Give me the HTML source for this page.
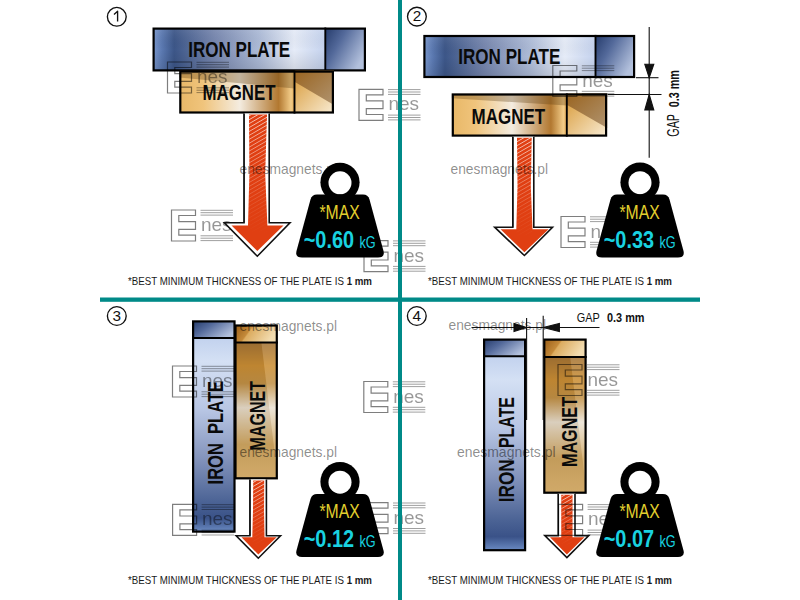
<!DOCTYPE html>
<html><head><meta charset="utf-8"><style>
html,body{margin:0;padding:0;background:#fff;overflow:hidden;}
svg{display:block;}
</style></head><body>
<svg width="800" height="600" viewBox="0 0 800 600">
<rect width="800" height="600" fill="#fff"/>

<defs>
 <linearGradient id="ironH" x1="0" y1="0" x2="1" y2="0">
  <stop offset="0" stop-color="#7896cc"/>
  <stop offset="0.05" stop-color="#5a78b0"/>
  <stop offset="0.12" stop-color="#3c5688"/>
  <stop offset="0.35" stop-color="#7686ae"/>
  <stop offset="0.62" stop-color="#aebcd8"/>
  <stop offset="0.82" stop-color="#e6ecf8"/>
  <stop offset="1" stop-color="#c4d2ee"/>
 </linearGradient>
 <linearGradient id="ironCap" x1="0" y1="0" x2="1" y2="0.6">
  <stop offset="0" stop-color="#263c6c"/>
  <stop offset="0.4" stop-color="#53699a"/>
  <stop offset="1" stop-color="#b2c0dc"/>
 </linearGradient>
 <linearGradient id="ironV" x1="0" y1="0" x2="0" y2="1">
  <stop offset="0" stop-color="#c2d2ee"/>
  <stop offset="0.12" stop-color="#d4e0f4"/>
  <stop offset="0.37" stop-color="#b8c6e4"/>
  <stop offset="0.62" stop-color="#8494bc"/>
  <stop offset="0.85" stop-color="#4a6294"/>
  <stop offset="0.93" stop-color="#3a5288"/>
  <stop offset="1" stop-color="#6a8ac2"/>
 </linearGradient>
 <linearGradient id="magH" x1="0" y1="0" x2="1" y2="0">
  <stop offset="0" stop-color="#e8b868"/>
  <stop offset="0.2" stop-color="#f0c47c"/>
  <stop offset="0.52" stop-color="#f4ece0"/>
  <stop offset="0.86" stop-color="#b27830"/>
  <stop offset="0.97" stop-color="#f2cc88"/>
  <stop offset="1" stop-color="#e4aa54"/>
 </linearGradient>
 <linearGradient id="magCapLight" x1="0" y1="0" x2="1" y2="1">
  <stop offset="0" stop-color="#d89a38"/>
  <stop offset="1" stop-color="#f8ead0"/>
 </linearGradient>
 <linearGradient id="magCapDark" x1="0" y1="0" x2="1" y2="1">
  <stop offset="0" stop-color="#9a6420"/>
  <stop offset="1" stop-color="#b09470"/>
 </linearGradient>
 <linearGradient id="magV" x1="0" y1="0" x2="0" y2="1">
  <stop offset="0" stop-color="#a47436"/>
  <stop offset="0.17" stop-color="#cc9036"/>
  <stop offset="0.3" stop-color="#c29248"/>
  <stop offset="0.48" stop-color="#ece4d6"/>
  <stop offset="0.75" stop-color="#d2aa66"/>
  <stop offset="1" stop-color="#e2ba76"/>
 </linearGradient>
 <linearGradient id="magCapV" x1="0" y1="0" x2="1" y2="0.3">
  <stop offset="0" stop-color="#9a6018"/>
  <stop offset="0.12" stop-color="#a86c22"/>
  <stop offset="0.38" stop-color="#c48a3a"/>
  <stop offset="0.42" stop-color="#dcac60"/>
  <stop offset="1" stop-color="#f2dcb0"/>
 </linearGradient>
 <linearGradient id="shadeV" x1="0" y1="0" x2="0" y2="1">
  <stop offset="0" stop-color="#fff" stop-opacity="0.08"/>
  <stop offset="0.5" stop-color="#000" stop-opacity="0"/>
  <stop offset="1" stop-color="#000" stop-opacity="0.1"/>
 </linearGradient>
 <pattern id="hatch" patternUnits="userSpaceOnUse" width="12" height="3.4" patternTransform="rotate(-30)">
  <rect x="0" y="0" width="12" height="0.7" fill="#ffffff"/>
 </pattern>
 <linearGradient id="hatchFade" x1="0" y1="0" x2="0" y2="1">
  <stop offset="0" stop-color="#fff" stop-opacity="0.85"/>
  <stop offset="0.4" stop-color="#fff" stop-opacity="0.45"/>
  <stop offset="0.75" stop-color="#fff" stop-opacity="0.12"/>
  <stop offset="1" stop-color="#fff" stop-opacity="0.0"/>
 </linearGradient>
 <mask id="hatchMask" maskContentUnits="objectBoundingBox">
  <rect width="1" height="1" fill="url(#hatchFade)"/>
 </mask>
</defs>

<circle cx="116.8" cy="16.8" r="9.4" fill="none" stroke="#111" stroke-width="1.35"/>
<path d="M117.6,21.4 V11.200000000000001 L114.0,14.4" fill="none" stroke="#111" stroke-width="1.35" stroke-linejoin="round"/>
<rect x="153.6" y="28.6" width="171.70000000000002" height="41.8" fill="url(#ironH)"/>
<rect x="325.3" y="28.6" width="39.599999999999966" height="41.8" fill="url(#ironCap)"/>
<rect x="153.6" y="28.6" width="171.70000000000002" height="41.8" fill="url(#shadeV)"/>
<rect x="153.6" y="28.6" width="211.3" height="41.8" fill="none" stroke="#000" stroke-width="2.2"/>
<line x1="325.3" y1="27.5" x2="325.3" y2="71.5" stroke="#000" stroke-width="1.9"/>
<rect x="180.29999999999998" y="71.6" width="114.20000000000002" height="40.89999999999999" fill="url(#magH)"/>
<path d="M179.2,70.5 H294.5 V88.602 L179.2,77.396 Z" fill="#5a3a10" fill-opacity="0.32"/>
<rect x="294.5" y="71.6" width="38.39999999999998" height="40.89999999999999" fill="url(#magCapLight)"/>
<path d="M294.5,70.5 H334 V104.97999999999999 L294.5,81.706 Z" fill="url(#magCapDark)"/>
<rect x="180.29999999999998" y="71.6" width="152.60000000000002" height="40.89999999999999" fill="none" stroke="#000" stroke-width="2.2"/>
<line x1="294.5" y1="70.5" x2="294.5" y2="113.6" stroke="#000" stroke-width="1.9"/>
<text x="188.2" y="56.7" font-size="21.4" font-weight="bold" fill="#0a0a0a" text-anchor="start" textLength="102" lengthAdjust="spacingAndGlyphs" font-family='"Liberation Sans", sans-serif' >IRON PLATE</text>
<text x="202.5" y="100" font-size="22" font-weight="bold" fill="#0a0a0a" text-anchor="start" textLength="73" lengthAdjust="spacingAndGlyphs" font-family='"Liberation Sans", sans-serif' >MAGNET</text>
<g transform="translate(167.5,62)" fill="none" stroke="#000" opacity="0.5"><path d="M0,0 H24 V5.5 H7.3 V11.6 H24 V19.4 H7.3 V25.2 H24 V31 H0 Z" stroke-width="1.2"/>
  <path d="M29,0.3 H61.5 M29,2.7 H61.5 M29,5.1 H61.5 M29,25.8 H61.5 M29,28.2 H61.5 M29,30.6 H61.5" stroke-width="0.75"/>
  <text x="29.5" y="21" font-size="19" fill="#000" fill-opacity="0.82" stroke="none" textLength="30.5" lengthAdjust="spacing" font-family='"Liberation Sans", sans-serif'>nes</text></g>
<g transform="translate(359,89.3)" fill="none" stroke="#000" opacity="0.5"><path d="M0,0 H24 V5.5 H7.3 V11.6 H24 V19.4 H7.3 V25.2 H24 V31 H0 Z" stroke-width="1.2"/>
  <path d="M29,0.3 H61.5 M29,2.7 H61.5 M29,5.1 H61.5 M29,25.8 H61.5 M29,28.2 H61.5 M29,30.6 H61.5" stroke-width="0.75"/>
  <text x="29.5" y="21" font-size="19" fill="#000" fill-opacity="0.82" stroke="none" textLength="30.5" lengthAdjust="spacing" font-family='"Liberation Sans", sans-serif'>nes</text></g>
<g transform="translate(171.5,210)" fill="none" stroke="#000" opacity="0.5"><path d="M0,0 H24 V5.5 H7.3 V11.6 H24 V19.4 H7.3 V25.2 H24 V31 H0 Z" stroke-width="1.2"/>
  <path d="M29,0.3 H61.5 M29,2.7 H61.5 M29,5.1 H61.5 M29,25.8 H61.5 M29,28.2 H61.5 M29,30.6 H61.5" stroke-width="0.75"/>
  <text x="29.5" y="21" font-size="19" fill="#000" fill-opacity="0.82" stroke="none" textLength="30.5" lengthAdjust="spacing" font-family='"Liberation Sans", sans-serif'>nes</text></g>
<path d="M244,113.6 V222.8 H224.4 L257.3,256.2 L290,222.8 H269.2 V113.6" fill="#fff" stroke="#111" stroke-width="1.6" stroke-linejoin="miter" stroke-miterlimit="10"/>
<path d="M249,114.6 H267 L265.2,173.66000000000003 L267.4,225.5 H283.5 L257.3,251 L231.5,225.5 H248 L249.4,173.66000000000003 Z" fill="#e03f12"/>
<rect x="248" y="114.6" width="19.399999999999977" height="119.9" fill="url(#hatch)" mask="url(#hatchMask)"/>
<line x1="244.2" y1="113.6" x2="244.2" y2="222.8" stroke="#111" stroke-width="1"/>
<text x="239.5" y="173.8" font-size="14.8" fill="#000" fill-opacity="0.46" textLength="97.5" lengthAdjust="spacingAndGlyphs" font-family='"Liberation Sans", sans-serif'>enesmagnets.pl</text>
<g transform="translate(364,240.6)" fill="none" stroke="#000" opacity="0.5"><path d="M0,0 H24 V5.5 H7.3 V11.6 H24 V19.4 H7.3 V25.2 H24 V31 H0 Z" stroke-width="1.2"/>
  <path d="M29,0.3 H61.5 M29,2.7 H61.5 M29,5.1 H61.5 M29,25.8 H61.5 M29,28.2 H61.5 M29,30.6 H61.5" stroke-width="0.75"/>
  <text x="29.5" y="21" font-size="19" fill="#000" fill-opacity="0.82" stroke="none" textLength="30.5" lengthAdjust="spacing" font-family='"Liberation Sans", sans-serif'>nes</text></g>
<g transform="translate(340,194.6)">
<circle cx="0" cy="-12.3" r="19.6" fill="#000"/>
<circle cx="0" cy="-11.8" r="11.5" fill="#fff"/>
<path d="M-23,0 H23 Q28,0 29.5,5 L43.5,56.5 Q45,63 38,63 H-38 Q-45,63 -43.5,56.5 L-29.5,5 Q-28,0 -23,0 Z" fill="#000"/>
<text x="-20.6" y="24.4" font-size="19.8" font-weight="normal" fill="#e2cf2e" text-anchor="start" textLength="40.3" lengthAdjust="spacingAndGlyphs" font-family='"Liberation Sans", sans-serif' >*MAX</text>
<text x="-36.3" y="53" font-size="24.3" font-weight="bold" fill="#19d2e0" text-anchor="start" textLength="50.4" lengthAdjust="spacingAndGlyphs" font-family='"Liberation Sans", sans-serif' >~0.60</text>
<text x="19.4" y="53" font-size="16" font-weight="normal" fill="#19d2e0" text-anchor="start" textLength="16.2" lengthAdjust="spacingAndGlyphs" font-family='"Liberation Sans", sans-serif' >kG</text>
</g>
<text x="128" y="284.5" font-size="11.6" fill="#1a1a1a" font-family='"Liberation Sans", sans-serif' textLength="244" lengthAdjust="spacingAndGlyphs">*BEST MINIMUM THICKNESS OF THE PLATE IS <tspan font-weight="bold">1 mm</tspan></text>
<circle cx="416.9" cy="16.6" r="9.4" fill="none" stroke="#111" stroke-width="1.35"/>
<text x="416.9" y="21.3" font-size="15.3" font-weight="normal" fill="#111" text-anchor="middle" font-family='"Liberation Sans", sans-serif' >2</text>
<rect x="424.40000000000003" y="36.0" width="171.1" height="40.99999999999999" fill="url(#ironH)"/>
<rect x="595.5" y="36.0" width="38.60000000000002" height="40.99999999999999" fill="url(#ironCap)"/>
<rect x="424.40000000000003" y="36.0" width="171.1" height="40.99999999999999" fill="url(#shadeV)"/>
<rect x="424.40000000000003" y="36.0" width="209.70000000000005" height="40.99999999999999" fill="none" stroke="#000" stroke-width="2.2"/>
<line x1="595.5" y1="34.9" x2="595.5" y2="78.1" stroke="#000" stroke-width="1.9"/>
<rect x="452.8" y="94.5" width="113.99999999999997" height="41.09999999999998" fill="url(#magH)"/>
<path d="M451.7,93.4 H566.8 V105.524 L451.7,98.16300000000001 Z" fill="#5a3a10" fill-opacity="0.32"/>
<rect x="566.8" y="94.5" width="39.30000000000007" height="41.09999999999998" fill="url(#magCapLight)"/>
<path d="M566.8,93.4 H607.2 V128.04 L566.8,104.658 Z" fill="url(#magCapDark)"/>
<rect x="452.8" y="94.5" width="153.30000000000007" height="41.09999999999998" fill="none" stroke="#000" stroke-width="2.2"/>
<line x1="566.8" y1="93.4" x2="566.8" y2="136.7" stroke="#000" stroke-width="1.9"/>
<text x="458.3" y="63.7" font-size="21.4" font-weight="bold" fill="#0a0a0a" text-anchor="start" textLength="102" lengthAdjust="spacingAndGlyphs" font-family='"Liberation Sans", sans-serif' >IRON PLATE</text>
<text x="471.6" y="124.2" font-size="22" font-weight="bold" fill="#0a0a0a" text-anchor="start" textLength="73.5" lengthAdjust="spacingAndGlyphs" font-family='"Liberation Sans", sans-serif' >MAGNET</text>
<g transform="translate(552.8,65.5)" fill="none" stroke="#000" opacity="0.5"><path d="M0,0 H24 V5.5 H7.3 V11.6 H24 V19.4 H7.3 V25.2 H24 V31 H0 Z" stroke-width="1.2"/>
  <path d="M29,0.3 H61.5 M29,2.7 H61.5 M29,5.1 H61.5 M29,25.8 H61.5 M29,28.2 H61.5 M29,30.6 H61.5" stroke-width="0.75"/>
  <text x="29.5" y="21" font-size="19" fill="#000" fill-opacity="0.82" stroke="none" textLength="30.5" lengthAdjust="spacing" font-family='"Liberation Sans", sans-serif'>nes</text></g>
<path d="M512.8,136.7 V227.2 H494.7 L524.4,255.5 L552.5,227.2 H533.8 V136.7" fill="#fff" stroke="#111" stroke-width="1.6" stroke-linejoin="miter" stroke-miterlimit="10"/>
<path d="M517,137.7 H531.7 L530.8,186.475 L532.5,229.3 H548.6 L524.4,252.3 L500.6,229.3 H516.3 L517.5,186.475 Z" fill="#e03f12"/>
<rect x="516.3" y="137.7" width="16.200000000000045" height="100.60000000000002" fill="url(#hatch)" mask="url(#hatchMask)"/>
<line x1="513.0" y1="136.7" x2="513.0" y2="227.2" stroke="#111" stroke-width="1"/>
<text x="450.5" y="174" font-size="14.8" fill="#000" fill-opacity="0.46" textLength="97.5" lengthAdjust="spacingAndGlyphs" font-family='"Liberation Sans", sans-serif'>enesmagnets.pl</text>
<g transform="translate(561,216.5)" fill="none" stroke="#000" opacity="0.5"><path d="M0,0 H24 V5.5 H7.3 V11.6 H24 V19.4 H7.3 V25.2 H24 V31 H0 Z" stroke-width="1.2"/>
  <path d="M29,0.3 H61.5 M29,2.7 H61.5 M29,5.1 H61.5 M29,25.8 H61.5 M29,28.2 H61.5 M29,30.6 H61.5" stroke-width="0.75"/>
  <text x="29.5" y="21" font-size="19" fill="#000" fill-opacity="0.82" stroke="none" textLength="30.5" lengthAdjust="spacing" font-family='"Liberation Sans", sans-serif'>nes</text></g>
<g transform="translate(640,194.5)">
<circle cx="0" cy="-12.3" r="19.6" fill="#000"/>
<circle cx="0" cy="-11.8" r="11.5" fill="#fff"/>
<path d="M-23,0 H23 Q28,0 29.5,5 L43.5,56.5 Q45,63 38,63 H-38 Q-45,63 -43.5,56.5 L-29.5,5 Q-28,0 -23,0 Z" fill="#000"/>
<text x="-20.6" y="24.4" font-size="19.8" font-weight="normal" fill="#e2cf2e" text-anchor="start" textLength="40.3" lengthAdjust="spacingAndGlyphs" font-family='"Liberation Sans", sans-serif' >*MAX</text>
<text x="-36.3" y="53" font-size="24.3" font-weight="bold" fill="#19d2e0" text-anchor="start" textLength="50.4" lengthAdjust="spacingAndGlyphs" font-family='"Liberation Sans", sans-serif' >~0.33</text>
<text x="19.4" y="53" font-size="16" font-weight="normal" fill="#19d2e0" text-anchor="start" textLength="16.2" lengthAdjust="spacingAndGlyphs" font-family='"Liberation Sans", sans-serif' >kG</text>
</g>
<text x="428" y="284.5" font-size="11.6" fill="#1a1a1a" font-family='"Liberation Sans", sans-serif' textLength="244" lengthAdjust="spacingAndGlyphs">*BEST MINIMUM THICKNESS OF THE PLATE IS <tspan font-weight="bold">1 mm</tspan></text>
<g stroke="#111" stroke-width="1.1" fill="#111">
<line x1="649.2" y1="27" x2="649.2" y2="157.7"/>
<line x1="636" y1="77.7" x2="658.5" y2="77.7"/>
<line x1="607.5" y1="94.5" x2="661.5" y2="94.5"/>
<path d="M644.8,64.2 L653.8,64.2 L649.2,77.7 Z"/>
<path d="M644.8,110 L653.8,110 L649.2,94.5 Z"/>
</g>
<text x="0" y="0" font-size="16.5" font-weight="normal" fill="#111" text-anchor="start" textLength="22.7" lengthAdjust="spacingAndGlyphs" font-family='"Liberation Sans", sans-serif' transform="translate(678.8,136.7) rotate(-90)">GAP</text>
<text x="0" y="0" font-size="15.4" font-weight="bold" fill="#111" text-anchor="start" textLength="37.3" lengthAdjust="spacingAndGlyphs" font-family='"Liberation Sans", sans-serif' transform="translate(678.6,107.3) rotate(-90)">0.3 mm</text>
<circle cx="116.8" cy="316" r="9.4" fill="none" stroke="#111" stroke-width="1.35"/>
<text x="116.8" y="320.7" font-size="15.3" font-weight="normal" fill="#111" text-anchor="middle" font-family='"Liberation Sans", sans-serif' >3</text>
<rect x="193.1" y="337.9" width="41.39999999999999" height="193.70000000000005" fill="url(#ironV)"/>
<rect x="193.1" y="321.40000000000003" width="41.39999999999999" height="16.499999999999964" fill="url(#ironCap)"/>
<rect x="193.1" y="321.40000000000003" width="41.39999999999999" height="210.20000000000005" fill="none" stroke="#000" stroke-width="2.2"/>
<line x1="192" y1="337.9" x2="235.6" y2="337.9" stroke="#000" stroke-width="2"/>
<rect x="235.5" y="342.6" width="41.29999999999997" height="135.69999999999993" fill="url(#magV)"/>
<path d="M234.4,342.6 H261.37 L277.9,479.4 H234.4 Z" fill="#5a3a10" fill-opacity="0.12"/>
<path d="M261.37,342.6 H277.9 V479.4 Z" fill="#fff" fill-opacity="0.12"/>
<rect x="235.5" y="325.5" width="41.29999999999997" height="17.100000000000044" fill="url(#magCapV)"/>
<rect x="235.5" y="325.5" width="41.29999999999997" height="152.8" fill="none" stroke="#000" stroke-width="2.2"/>
<line x1="234.4" y1="342.6" x2="277.9" y2="342.6" stroke="#000" stroke-width="2"/>
<text x="239.5" y="331" font-size="14.8" fill="#000" fill-opacity="0.46" textLength="97.5" lengthAdjust="spacingAndGlyphs" font-family='"Liberation Sans", sans-serif'>enesmagnets.pl</text>
<text x="0" y="0" font-size="21.4" font-weight="bold" fill="#0a0a0a" text-anchor="start" textLength="103.4" lengthAdjust="spacingAndGlyphs" font-family='"Liberation Sans", sans-serif' transform="translate(222.5,484.4) rotate(-90)">IRON&#160;&#160;PLATE</text>
<text x="0" y="0" font-size="21.4" font-weight="bold" fill="#0a0a0a" text-anchor="start" textLength="69.4" lengthAdjust="spacingAndGlyphs" font-family='"Liberation Sans", sans-serif' transform="translate(265,450.4) rotate(-90)">MAGNET</text>
<g transform="translate(172.5,366)" fill="none" stroke="#000" opacity="0.5"><path d="M0,0 H24 V5.5 H7.3 V11.6 H24 V19.4 H7.3 V25.2 H24 V31 H0 Z" stroke-width="1.2"/>
  <path d="M29,0.3 H61.5 M29,2.7 H61.5 M29,5.1 H61.5 M29,25.8 H61.5 M29,28.2 H61.5 M29,30.6 H61.5" stroke-width="0.75"/>
  <text x="29.5" y="21" font-size="19" fill="#000" fill-opacity="0.82" stroke="none" textLength="30.5" lengthAdjust="spacing" font-family='"Liberation Sans", sans-serif'>nes</text></g>
<g transform="translate(363.8,381.5)" fill="none" stroke="#000" opacity="0.5"><path d="M0,0 H24 V5.5 H7.3 V11.6 H24 V19.4 H7.3 V25.2 H24 V31 H0 Z" stroke-width="1.2"/>
  <path d="M29,0.3 H61.5 M29,2.7 H61.5 M29,5.1 H61.5 M29,25.8 H61.5 M29,28.2 H61.5 M29,30.6 H61.5" stroke-width="0.75"/>
  <text x="29.5" y="21" font-size="19" fill="#000" fill-opacity="0.82" stroke="none" textLength="30.5" lengthAdjust="spacing" font-family='"Liberation Sans", sans-serif'>nes</text></g>
<text x="239.5" y="457" font-size="14.8" fill="#000" fill-opacity="0.46" textLength="97.5" lengthAdjust="spacingAndGlyphs" font-family='"Liberation Sans", sans-serif'>enesmagnets.pl</text>
<path d="M249.9,479.4 V535.7 H236.2 L258.3,558.2 L280.5,535.7 H266.4 V479.4" fill="#fff" stroke="#111" stroke-width="1.6" stroke-linejoin="miter" stroke-miterlimit="10"/>
<path d="M253.2,480.4 H264.2 L264,510.365 L264.5,537.2 H276.7 L258.3,554.5 L241.5,537.2 H252.3 L253,510.365 Z" fill="#e03f12"/>
<rect x="252.3" y="480.4" width="12.199999999999989" height="65.80000000000007" fill="url(#hatch)" mask="url(#hatchMask)"/>
<line x1="250.1" y1="479.4" x2="250.1" y2="535.7" stroke="#111" stroke-width="1"/>
<g transform="translate(172.6,504.4)" fill="none" stroke="#000" opacity="0.5"><path d="M0,0 H24 V5.5 H7.3 V11.6 H24 V19.4 H7.3 V25.2 H24 V31 H0 Z" stroke-width="1.2"/>
  <path d="M29,0.3 H61.5 M29,2.7 H61.5 M29,5.1 H61.5 M29,25.8 H61.5 M29,28.2 H61.5 M29,30.6 H61.5" stroke-width="0.75"/>
  <text x="29.5" y="21" font-size="19" fill="#000" fill-opacity="0.82" stroke="none" textLength="30.5" lengthAdjust="spacing" font-family='"Liberation Sans", sans-serif'>nes</text></g>
<g transform="translate(364,502.7)" fill="none" stroke="#000" opacity="0.5"><path d="M0,0 H24 V5.5 H7.3 V11.6 H24 V19.4 H7.3 V25.2 H24 V31 H0 Z" stroke-width="1.2"/>
  <path d="M29,0.3 H61.5 M29,2.7 H61.5 M29,5.1 H61.5 M29,25.8 H61.5 M29,28.2 H61.5 M29,30.6 H61.5" stroke-width="0.75"/>
  <text x="29.5" y="21" font-size="19" fill="#000" fill-opacity="0.82" stroke="none" textLength="30.5" lengthAdjust="spacing" font-family='"Liberation Sans", sans-serif'>nes</text></g>
<g transform="translate(340,494)">
<circle cx="0" cy="-12.3" r="19.6" fill="#000"/>
<circle cx="0" cy="-11.8" r="11.5" fill="#fff"/>
<path d="M-23,0 H23 Q28,0 29.5,5 L43.5,56.5 Q45,63 38,63 H-38 Q-45,63 -43.5,56.5 L-29.5,5 Q-28,0 -23,0 Z" fill="#000"/>
<text x="-20.6" y="24.4" font-size="19.8" font-weight="normal" fill="#e2cf2e" text-anchor="start" textLength="40.3" lengthAdjust="spacingAndGlyphs" font-family='"Liberation Sans", sans-serif' >*MAX</text>
<text x="-36.3" y="53" font-size="24.3" font-weight="bold" fill="#19d2e0" text-anchor="start" textLength="50.4" lengthAdjust="spacingAndGlyphs" font-family='"Liberation Sans", sans-serif' >~0.12</text>
<text x="19.4" y="53" font-size="16" font-weight="normal" fill="#19d2e0" text-anchor="start" textLength="16.2" lengthAdjust="spacingAndGlyphs" font-family='"Liberation Sans", sans-serif' >kG</text>
</g>
<text x="128" y="584.2" font-size="11.6" fill="#1a1a1a" font-family='"Liberation Sans", sans-serif' textLength="244" lengthAdjust="spacingAndGlyphs">*BEST MINIMUM THICKNESS OF THE PLATE IS <tspan font-weight="bold">1 mm</tspan></text>
<circle cx="416.8" cy="316" r="9.4" fill="none" stroke="#111" stroke-width="1.35"/>
<text x="416.8" y="320.7" font-size="15.3" font-weight="normal" fill="#111" text-anchor="middle" font-family='"Liberation Sans", sans-serif' >4</text>
<rect x="484.1" y="356.3" width="41.00000000000004" height="193.89999999999992" fill="url(#ironV)"/>
<rect x="484.1" y="339.6" width="41.00000000000004" height="16.70000000000001" fill="url(#ironCap)"/>
<rect x="484.1" y="339.6" width="41.00000000000004" height="210.59999999999997" fill="none" stroke="#000" stroke-width="2.2"/>
<line x1="483" y1="356.3" x2="526.2" y2="356.3" stroke="#000" stroke-width="2"/>
<rect x="544.3000000000001" y="357" width="41.3" height="135.7" fill="url(#magV)"/>
<path d="M543.2,357 H570.1700000000001 L586.7,493.8 H543.2 Z" fill="#5a3a10" fill-opacity="0.12"/>
<path d="M570.1700000000001,357 H586.7 V493.8 Z" fill="#fff" fill-opacity="0.12"/>
<rect x="544.3000000000001" y="339.6" width="41.3" height="17.4" fill="url(#magCapV)"/>
<rect x="544.3000000000001" y="339.6" width="41.3" height="153.10000000000002" fill="none" stroke="#000" stroke-width="2.2"/>
<line x1="543.2" y1="357" x2="586.7" y2="357" stroke="#000" stroke-width="2"/>
<text x="0" y="0" font-size="21.8" font-weight="bold" fill="#0a0a0a" text-anchor="start" textLength="43" lengthAdjust="spacingAndGlyphs" font-family='"Liberation Sans", sans-serif' transform="translate(513.5,502.2) rotate(-90)">IRON</text>
<text x="0" y="0" font-size="21.8" font-weight="bold" fill="#0a0a0a" text-anchor="start" textLength="51" lengthAdjust="spacingAndGlyphs" font-family='"Liberation Sans", sans-serif' transform="translate(513.5,448) rotate(-90)">PLATE</text>
<text x="0" y="0" font-size="21.8" font-weight="bold" fill="#0a0a0a" text-anchor="start" textLength="70" lengthAdjust="spacingAndGlyphs" font-family='"Liberation Sans", sans-serif' transform="translate(577,467) rotate(-90)">MAGNET</text>
<g transform="translate(558,364.5)" fill="none" stroke="#000" opacity="0.5"><path d="M0,0 H24 V5.5 H7.3 V11.6 H24 V19.4 H7.3 V25.2 H24 V31 H0 Z" stroke-width="1.2"/>
  <path d="M29,0.3 H61.5 M29,2.7 H61.5 M29,5.1 H61.5 M29,25.8 H61.5 M29,28.2 H61.5 M29,30.6 H61.5" stroke-width="0.75"/>
  <text x="29.5" y="21" font-size="19" fill="#000" fill-opacity="0.82" stroke="none" textLength="30.5" lengthAdjust="spacing" font-family='"Liberation Sans", sans-serif'>nes</text></g>
<text x="457" y="456.5" font-size="14.8" fill="#000" fill-opacity="0.46" textLength="98.5" lengthAdjust="spacingAndGlyphs" font-family='"Liberation Sans", sans-serif'>enesmagnets.pl</text>
<path d="M558.2,493.8 V535.6 H544.8 L566.9,557.5 L588.8,535.6 H575 V493.8" fill="#fff" stroke="#111" stroke-width="1.6" stroke-linejoin="miter" stroke-miterlimit="10"/>
<path d="M561.25,494.8 H572.5 L572.5,516.79 L572.5,537.3 H584.4 L566.9,554.4 L550,537.3 H561.25 L561.25,516.79 Z" fill="#e03f12"/>
<rect x="561.25" y="494.8" width="11.25" height="51.49999999999994" fill="url(#hatch)" mask="url(#hatchMask)"/>
<line x1="558.4000000000001" y1="493.8" x2="558.4000000000001" y2="535.6" stroke="#111" stroke-width="1"/>
<g transform="translate(558.6,504.3)" fill="none" stroke="#000" opacity="0.5"><path d="M0,0 H24 V5.5 H7.3 V11.6 H24 V19.4 H7.3 V25.2 H24 V31 H0 Z" stroke-width="1.2"/>
  <path d="M29,0.3 H61.5 M29,2.7 H61.5 M29,5.1 H61.5 M29,25.8 H61.5 M29,28.2 H61.5 M29,30.6 H61.5" stroke-width="0.75"/>
  <text x="29.5" y="21" font-size="19" fill="#000" fill-opacity="0.82" stroke="none" textLength="30.5" lengthAdjust="spacing" font-family='"Liberation Sans", sans-serif'>nes</text></g>
<g transform="translate(640,494)">
<circle cx="0" cy="-12.3" r="19.6" fill="#000"/>
<circle cx="0" cy="-11.8" r="11.5" fill="#fff"/>
<path d="M-23,0 H23 Q28,0 29.5,5 L43.5,56.5 Q45,63 38,63 H-38 Q-45,63 -43.5,56.5 L-29.5,5 Q-28,0 -23,0 Z" fill="#000"/>
<text x="-20.6" y="24.4" font-size="19.8" font-weight="normal" fill="#e2cf2e" text-anchor="start" textLength="40.3" lengthAdjust="spacingAndGlyphs" font-family='"Liberation Sans", sans-serif' >*MAX</text>
<text x="-36.3" y="53" font-size="24.3" font-weight="bold" fill="#19d2e0" text-anchor="start" textLength="50.4" lengthAdjust="spacingAndGlyphs" font-family='"Liberation Sans", sans-serif' >~0.07</text>
<text x="19.4" y="53" font-size="16" font-weight="normal" fill="#19d2e0" text-anchor="start" textLength="16.2" lengthAdjust="spacingAndGlyphs" font-family='"Liberation Sans", sans-serif' >kG</text>
</g>
<text x="428" y="584.2" font-size="11.6" fill="#1a1a1a" font-family='"Liberation Sans", sans-serif' textLength="244" lengthAdjust="spacingAndGlyphs">*BEST MINIMUM THICKNESS OF THE PLATE IS <tspan font-weight="bold">1 mm</tspan></text>
<g stroke="#111" stroke-width="1.1" fill="#111">
<line x1="526.6" y1="318" x2="526.6" y2="420"/>
<line x1="543.2" y1="315.7" x2="543.2" y2="420"/>
<line x1="471.5" y1="327.5" x2="599.5" y2="327.5"/>
<path d="M514,323.5 L514,331.5 L526.6,327.5 Z"/>
<path d="M559.4,323.5 L559.4,331.5 L543.2,327.5 Z"/>
</g>
<text x="576.8" y="321.5" font-size="13.5" font-weight="normal" fill="#111" text-anchor="start" textLength="23" lengthAdjust="spacingAndGlyphs" font-family='"Liberation Sans", sans-serif' >GAP</text>
<text x="607" y="321.5" font-size="13.5" font-weight="bold" fill="#111" text-anchor="start" textLength="37.5" lengthAdjust="spacingAndGlyphs" font-family='"Liberation Sans", sans-serif' >0.3 mm</text>
<text x="448.5" y="330.3" font-size="14.8" fill="#000" fill-opacity="0.46" textLength="97.5" lengthAdjust="spacingAndGlyphs" font-family='"Liberation Sans", sans-serif'>enesmagnets.pl</text>
<rect x="398" y="0" width="4" height="600" fill="#008a88"/>
<rect x="100" y="297.5" width="600" height="4.3" fill="#008a88"/>
</svg>
</body></html>
